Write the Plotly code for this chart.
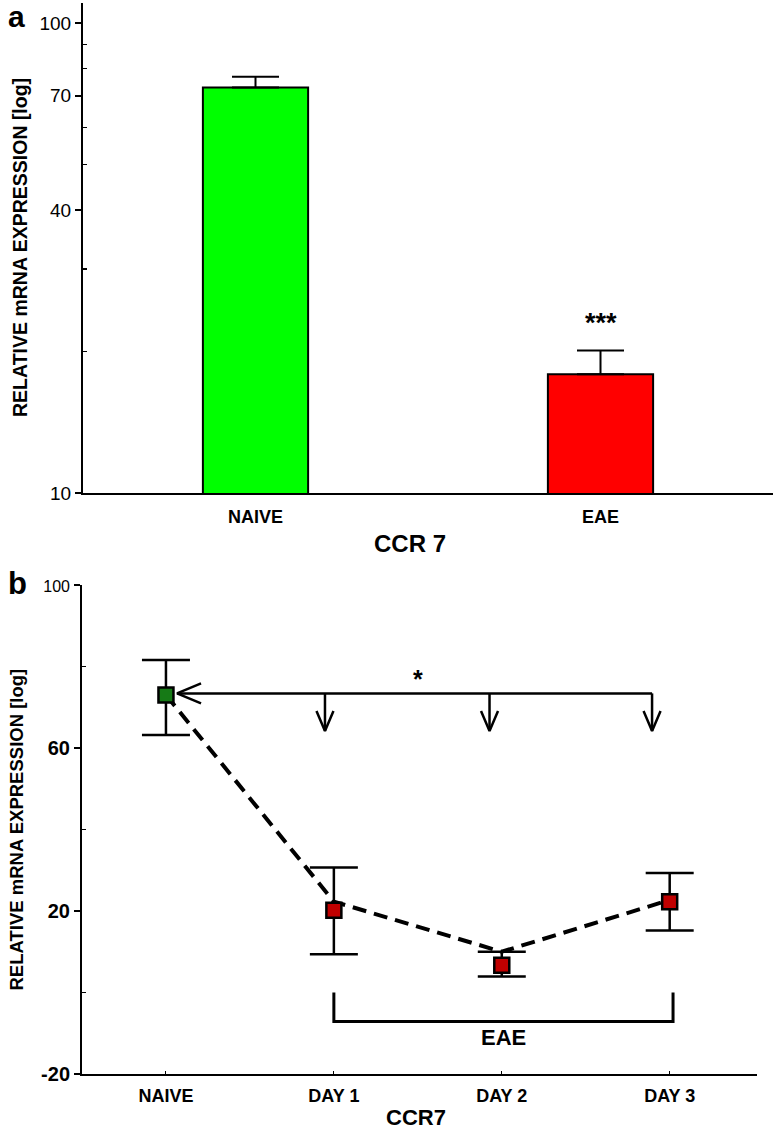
import math
import plotly.graph_objects as go

W, H = 774, 1133
FONT = "Liberation Sans, Arial, sans-serif"

# ---------------- panel a data ----------------
a_categories = ["NAIVE", "EAE"]
a_values = [72.9, 17.9]
a_err_up = [4.0, 2.2]
a_bar_colors = ["#00FF00", "#FF0000"]
a_tickvals = [10, 40, 70, 100]
a_minor_tickvals = [20, 30, 50, 60, 80, 90]
a_sig_label = "***"
a_sig_y = 23.0

# ---------------- panel b data ----------------
b_categories = ["NAIVE", "DAY 1", "DAY 2", "DAY 3"]
b_values = [73.0, 20.2, 6.7, 22.3]
b_err_up = [8.6, 10.5, 3.3, 7.0]
b_err_down = [9.8, 10.8, 2.8, 7.1]
b_trend = [73.0, 22.3, 10.0, 22.7]
b_marker_colors = ["#167A16", "#C00000", "#C00000", "#C00000"]
b_tickvals = [-20, 20, 60, 100]
b_ticktext = ["<b>-20</b>", "<b>20</b>", "<b>60</b>", "<span style='font-size:16px'>100</span>"]
b_minor_tickvals = [0, 40, 80]
b_compare_y = 73.4
b_arrow_tip_y = 64.2
b_arrow_start_x = 0.066
b_arrow_x = [0.947, 1.927, 2.895]
b_sig_label = "*"
b_sig_x, b_sig_y = 1.5, 77.0
b_bracket_x = [1.0, 3.02]
b_bracket_top = 0.0
b_bracket_bottom = -7.1
b_bracket_label = "EAE"
b_bracket_label_y = -11.0

# ---------------- layout geometry (pixels) ----------------
A_L, A_R, A_T, A_B = 83, 773, 3, 493
B_L, B_R, B_T, B_B = 82, 757, 585, 1074
a_yrange = [1.0, 2.0426]
b_xrange = [-0.5, 3.52]
b_yrange = [-20, 100]
b_x = list(range(len(b_categories)))

px_x = (B_R - B_L) / (b_xrange[1] - b_xrange[0])
px_y = (B_B - B_T) / (b_yrange[1] - b_yrange[0])

def px(x):
    return x / W

def py(y):
    return 1 - y / H

fig = go.Figure()

# panel a bars
fig.add_trace(go.Bar(
    x=a_categories, y=a_values, width=0.305,
    marker=dict(color=a_bar_colors, line=dict(color="black", width=2)),
    error_y=dict(type="data", symmetric=False, array=a_err_up,
                 arrayminus=[0] * len(a_values), color="black",
                 thickness=2, width=23.5),
    xaxis="x", yaxis="y", showlegend=False, hoverinfo="skip"))

# panel b dashed trend
fig.add_trace(go.Scatter(
    x=b_x, y=b_trend, mode="lines",
    line=dict(color="black", width=4, dash="14px,8px"),
    xaxis="x2", yaxis="y2", showlegend=False, hoverinfo="skip"))

# panel b arrows (comparison line + open heads)
hx = 24 / px_x
hy = 10 / px_y
dx = 8.5 / px_x
dy = 20 / px_y
ax, ay = [], []
ax += [b_arrow_start_x + hx, b_arrow_start_x, b_arrow_start_x + hx, None]
ay += [b_compare_y + hy, b_compare_y, b_compare_y - hy, None]
ax += [b_arrow_start_x, b_arrow_x[-1], None]
ay += [b_compare_y, b_compare_y, None]
for xv in b_arrow_x:
    ax += [xv, xv, None, xv - dx, xv, xv + dx, None]
    ay += [b_compare_y, b_arrow_tip_y, None,
           b_arrow_tip_y + dy, b_arrow_tip_y, b_arrow_tip_y + dy, None]
fig.add_trace(go.Scatter(
    x=ax, y=ay, mode="lines", line=dict(color="black", width=2.5),
    xaxis="x2", yaxis="y2", showlegend=False, hoverinfo="skip",
    cliponaxis=False))

# bracket
fig.add_trace(go.Scatter(
    x=[b_bracket_x[0], b_bracket_x[0], b_bracket_x[1], b_bracket_x[1]],
    y=[b_bracket_top, b_bracket_bottom, b_bracket_bottom, b_bracket_top],
    mode="lines", line=dict(color="black", width=3),
    xaxis="x2", yaxis="y2", showlegend=False, hoverinfo="skip"))

# panel b markers with error bars
fig.add_trace(go.Scatter(
    x=b_x, y=b_values, mode="markers",
    marker=dict(symbol="square", size=15, color=b_marker_colors,
                line=dict(color="black", width=2.5)),
    error_y=dict(type="data", symmetric=False, array=b_err_up,
                 arrayminus=b_err_down, color="black",
                 thickness=2.5, width=24),
    xaxis="x2", yaxis="y2", showlegend=False, hoverinfo="skip"))

axis_common = dict(showline=True, linecolor="black", linewidth=2,
                   showgrid=False, zeroline=False, mirror=False,
                   automargin=False)

fig.update_layout(
    width=W, height=H, margin=dict(l=0, r=0, t=0, b=0, autoexpand=False),
    paper_bgcolor="white", plot_bgcolor="white",
    font=dict(family=FONT, color="black"),
    bargap=0, hovermode=False,
    xaxis=dict(domain=[px(A_L), px(A_R)], anchor="y", type="category",
               range=[-0.5, 1.5], ticks="", ticklabelstandoff=6,
               tickfont=dict(size=18, weight="bold"), **axis_common),
    yaxis=dict(domain=[py(A_B), py(A_T)], anchor="x", type="log",
               range=a_yrange, tickvals=a_tickvals,
               ticktext=[str(v) for v in a_tickvals],
               ticks="outside", ticklen=6, tickwidth=1.5, tickcolor="black",
               tickfont=dict(size=19),
               minor=dict(tickvals=a_minor_tickvals, ticks="inside",
                          ticklen=4, tickwidth=1.5, tickcolor="black"),
               **axis_common),
    xaxis2=dict(domain=[px(B_L), px(B_R)], anchor="y2",
                range=b_xrange, tickvals=b_x, ticktext=b_categories,
                ticks="inside", ticklen=3, tickwidth=1, tickcolor="black",
                ticklabelstandoff=4,
                tickfont=dict(size=18, weight="bold"), **axis_common),
    yaxis2=dict(domain=[py(B_B), py(B_T)], anchor="x2",
                range=b_yrange, tickvals=b_tickvals, ticktext=b_ticktext,
                ticks="outside", ticklen=6, tickwidth=1.5, tickcolor="black",
                tickfont=dict(size=20),
                minor=dict(tickvals=b_minor_tickvals, ticks="inside",
                           ticklen=4, tickwidth=1.5, tickcolor="black"),
                **axis_common),
)

ytitle = "RELATIVE mRNA EXPRESSION [log]"
ann = [
    dict(text="<b>a</b>", x=px(16), y=py(16), font=dict(size=30)),
    dict(text="<b>b</b>", x=px(17), y=py(583), font=dict(size=31)),
    dict(text="<b>%s</b>" % ytitle, x=px(20), y=py((A_T + A_B) / 2),
         textangle=-90, font=dict(size=19.5)),
    dict(text="<b>%s</b>" % ytitle, x=px(16), y=py((B_T + B_B) / 2),
         textangle=-90, font=dict(size=18.5)),
    dict(text="<b>CCR 7</b>", x=px(410), y=py(543), font=dict(size=24)),
    dict(text="<b>CCR7</b>", x=px(416), y=py(1117), font=dict(size=22)),
]
for a in ann:
    a.update(xref="paper", yref="paper", showarrow=False,
             xanchor="center", yanchor="middle")
    fig.add_annotation(**a)

fig.add_annotation(text="<b>%s</b>" % a_sig_label, x=a_categories[1],
                   y=math.log10(a_sig_y), xref="x", yref="y",
                   showarrow=False, font=dict(size=27), yanchor="middle")
fig.add_annotation(text="<b>%s</b>" % b_sig_label, x=b_sig_x, y=b_sig_y,
                   xref="x2", yref="y2", showarrow=False,
                   font=dict(size=25), yanchor="middle")
fig.add_annotation(text="<b>%s</b>" % b_bracket_label,
                   x=(b_bracket_x[0] + b_bracket_x[1]) / 2,
                   y=b_bracket_label_y, xref="x2", yref="y2", showarrow=False,
                   font=dict(size=22), yanchor="middle")

fig.write_html("out.html",
               config={"displayModeBar": False, "staticPlot": True},
               post_script="document.body.style.margin='0px';"
                           "document.body.style.overflow='hidden';")
